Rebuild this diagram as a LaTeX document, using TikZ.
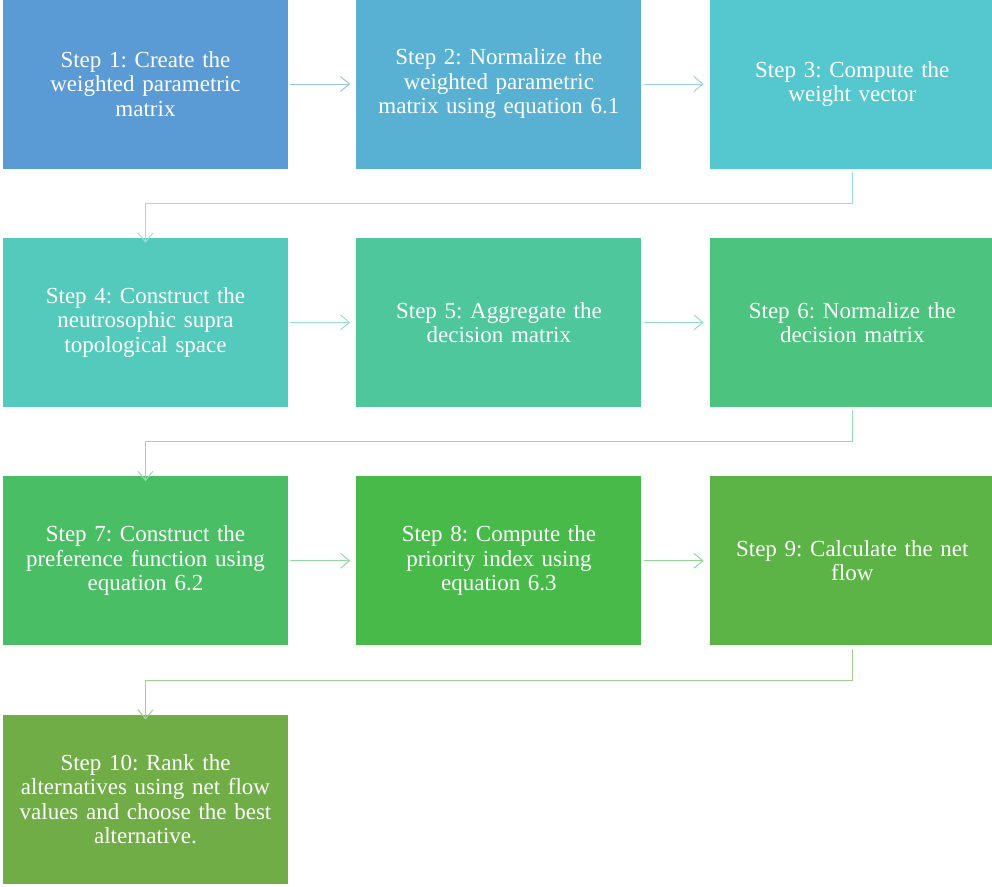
\documentclass[tikz,border=0pt]{standalone}
\usepackage{fontspec}
\setmainfont{Liberation Serif}
\usetikzlibrary{arrows.meta, positioning, calc}

\definecolor{stepA}{HTML}{5B9BD5}
\definecolor{stepB}{HTML}{58B1D2}
\definecolor{stepC}{HTML}{55C7CE}
\definecolor{stepD}{HTML}{53CABB}
\definecolor{stepE}{HTML}{4FC79C}
\definecolor{stepF}{HTML}{4CC37F}
\definecolor{stepG}{HTML}{49BE64}
\definecolor{stepH}{HTML}{47BA49}
\definecolor{stepI}{HTML}{5CB447}
\definecolor{stepJ}{HTML}{70AD47}

\frenchspacing
\begin{document}
\begin{tikzpicture}[
    x=1pt, y=1pt,
    stepbox/.style={rectangle, fill=#1, draw=none, minimum width=285pt, minimum height=169pt,
        text width=280pt, align=center, text=white, inner sep=0pt,
        font=\fontsize{23}{24.5}\selectfont},
    conn/.style={draw=#1!60!white, line width=1pt, -{Straight Barb[length=9pt,width=15pt,line width=1pt]}},
    node distance=69pt and 68pt
]
    \useasboundingbox (0,0) rectangle (992,-886);

    % Row 1
    \node[stepbox=stepA] (s1) at (145.5,-84) {Step 1: Create the\\ weighted parametric\\ matrix};
    \node[stepbox=stepB, right=of s1] (s2) {Step 2: Normalize the\\ weighted parametric\\ matrix using equation 6.1};
    \node[stepbox=stepC, right=of s2] (s3) {Step 3: Compute the\\ weight vector};
    % Row 2
    \node[stepbox=stepD, below=of s1] (s4) {Step 4: Construct the\\ neutrosophic supra\\ topological space};
    \node[stepbox=stepE, right=of s4] (s5) {Step 5: Aggregate the\\ decision matrix};
    \node[stepbox=stepF, right=of s5] (s6) {Step 6: Normalize the\\ decision matrix};
    % Row 3
    \node[stepbox=stepG, below=of s4] (s7) {Step 7: Construct the\\ preference function using\\ equation 6.2};
    \node[stepbox=stepH, right=of s7] (s8) {Step 8: Compute the\\ priority index using\\ equation 6.3};
    \node[stepbox=stepI, right=of s8] (s9) {Step 9: Calculate the net\\ flow};
    % Row 4
    \node[stepbox=stepJ, below=of s7] (s10) {Step 10: Rank the\\ alternatives using net flow\\ values and choose the best\\ alternative.};

    % Arrows within rows
    \draw[conn=stepA] ([xshift=2pt]s1.east) -- ([xshift=-6pt]s2.west);
    \draw[conn=stepB] ([xshift=2pt]s2.east) -- ([xshift=-6pt]s3.west);
    \draw[conn=stepD] ([xshift=2pt]s4.east) -- ([xshift=-6pt]s5.west);
    \draw[conn=stepE] ([xshift=2pt]s5.east) -- ([xshift=-6pt]s6.west);
    \draw[conn=stepG] ([xshift=2pt]s7.east) -- ([xshift=-6pt]s8.west);
    \draw[conn=stepH] ([xshift=2pt]s8.east) -- ([xshift=-6pt]s9.west);

    % Arrows between rows
    \draw[conn=stepC] ([yshift=-3pt]s3.south) -- ++(0,-31.5) -| ([yshift=-5pt]s4.north);
    \draw[conn=stepF] ([yshift=-3pt]s6.south) -- ++(0,-31.5) -| ([yshift=-5pt]s7.north);
    \draw[conn=stepI] ([yshift=-3pt]s9.south) -- ++(0,-31.5) -| ([yshift=-5pt]s10.north);
\end{tikzpicture}
\end{document}
